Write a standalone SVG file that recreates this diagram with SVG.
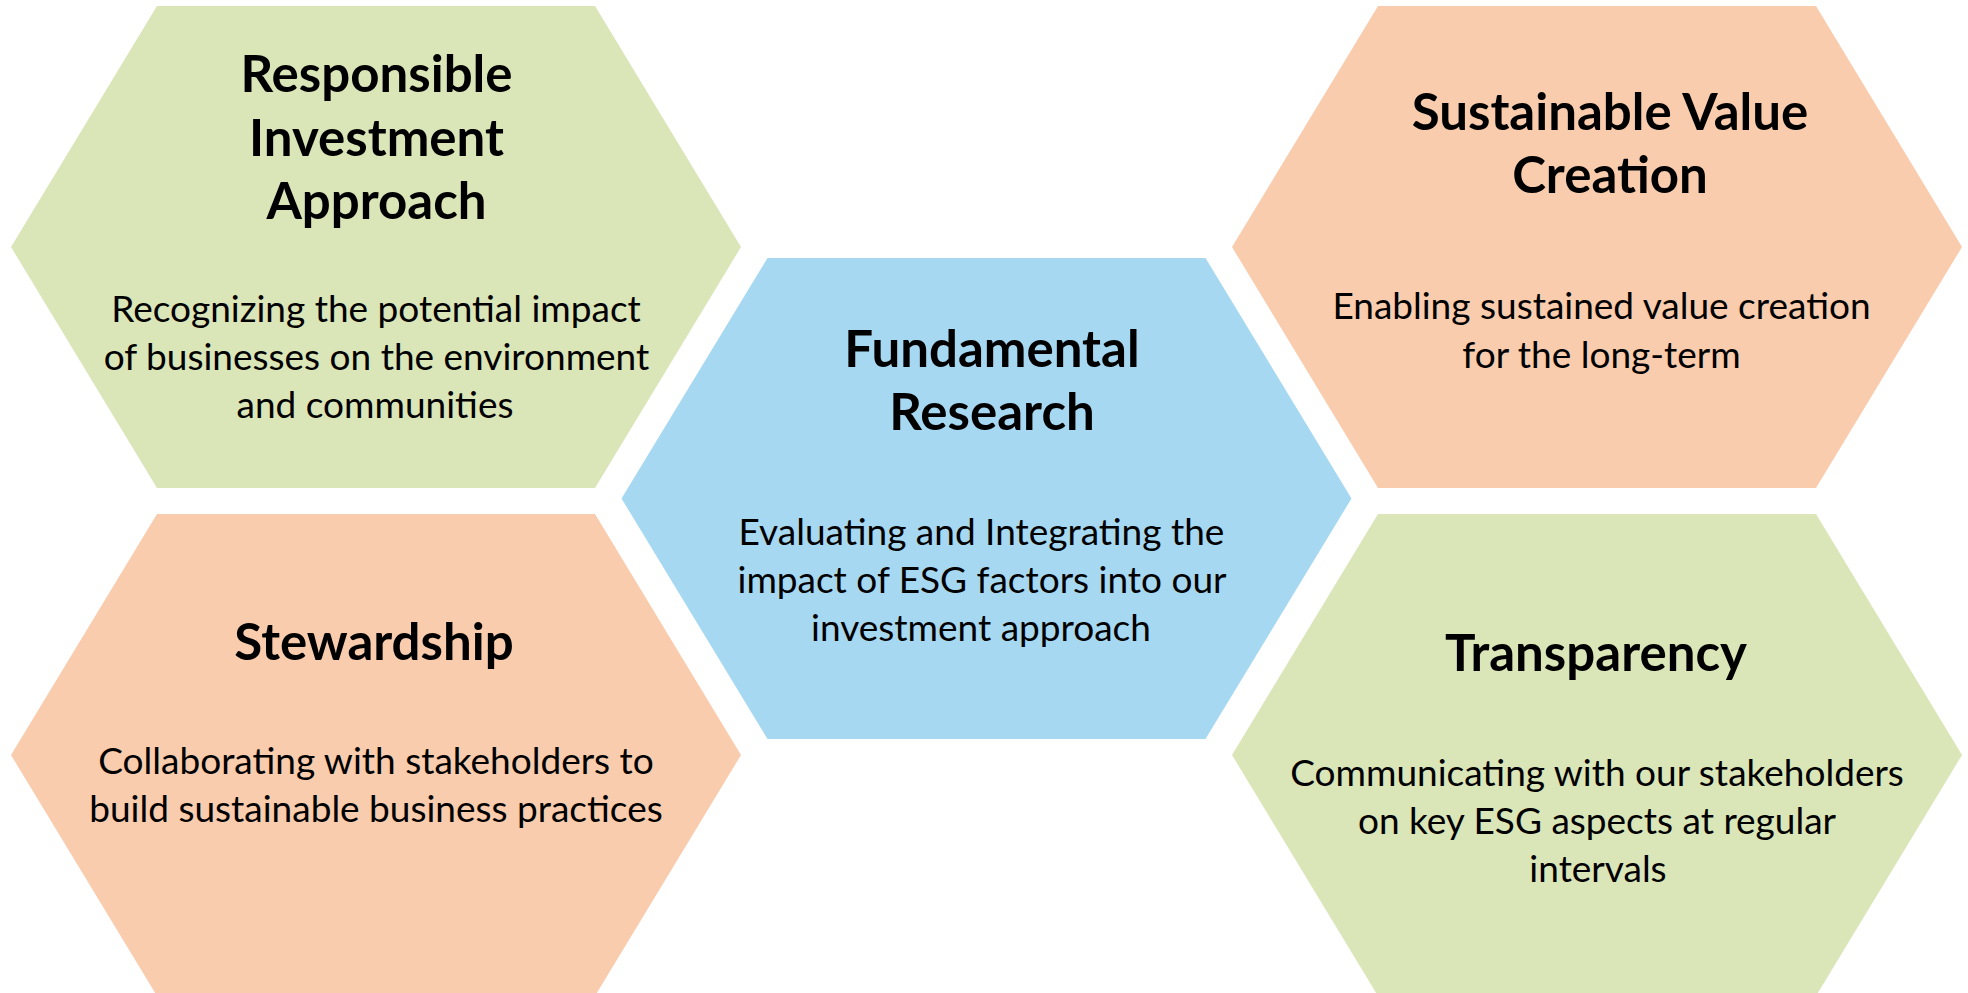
<svg xmlns="http://www.w3.org/2000/svg" width="1968" height="993" viewBox="0 0 1968 993">
  <style>
    .green { fill: #DAE5B8; }
    .orange { fill: #F8CCAD; }
    .blue { fill: #A7D8F2; }
    text { font-family: Lato, "Open Sans", "Liberation Sans", sans-serif; fill: #000; text-anchor: middle; }
    .title { font-size: 51px; font-weight: 700; }
    .body { font-size: 37px; font-weight: 400; }
  </style>
  <defs>
    <!-- flat-sided hexagon, 730 wide and 482 tall, centred on the origin -->
    <polygon id="hex" points="-365,0 -219,-241 219,-241 365,0 219,241 -219,241"/>
  </defs>

  <g id="responsible-investment">
    <use href="#hex" class="green" transform="translate(376,247)"/>
    <text class="title" x="376.5" y="92">Responsible</text>
    <text class="title" x="376.5" y="156">Investment</text>
    <text class="title" x="376.5" y="219">Approach</text>
    <text class="body" x="376" y="322">Recognizing the potential impact</text>
    <text class="body" x="376.5" y="370">of businesses on the environment</text>
    <text class="body" x="375" y="418">and communities</text>
  </g>

  <g id="stewardship">
    <use href="#hex" class="orange" transform="translate(376,755)"/>
    <text class="title" x="374" y="660">Stewardship</text>
    <text class="body" x="376" y="774">Collaborating with stakeholders to</text>
    <text class="body" x="376" y="822">build sustainable business practices</text>
  </g>

  <g id="fundamental-research">
    <use href="#hex" class="blue" transform="translate(986.5,498.5) scale(1,0.998)"/>
    <text class="title" x="992" y="367">Fundamental</text>
    <text class="title" x="992" y="430">Research</text>
    <text class="body" x="981.5" y="545">Evaluating and Integrating the</text>
    <text class="body" x="982" y="593">impact of ESG factors into our</text>
    <text class="body" x="981" y="641">investment approach</text>
  </g>

  <g id="sustainable-value">
    <use href="#hex" class="orange" transform="translate(1597,247)"/>
    <text class="title" x="1610" y="130">Sustainable Value</text>
    <text class="title" x="1610" y="193">Creation</text>
    <text class="body" x="1601.5" y="319">Enabling sustained value creation</text>
    <text class="body" x="1601.5" y="368">for the long-term</text>
  </g>

  <g id="transparency">
    <use href="#hex" class="green" transform="translate(1597,755)"/>
    <text class="title" x="1596" y="671">Transparency</text>
    <text class="body" x="1597" y="786">Communicating with our stakeholders</text>
    <text class="body" x="1597" y="834">on key ESG aspects at regular</text>
    <text class="body" x="1598" y="882">intervals</text>
  </g>

  <g id="connectors"/>
</svg>
